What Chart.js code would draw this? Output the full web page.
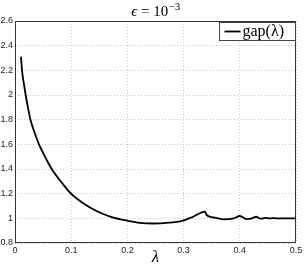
<!DOCTYPE html>
<html>
<head>
<meta charset="utf-8">
<script src="https://cdn.jsdelivr.net/npm/chart.js@4/dist/chart.umd.min.js"></script>
<style>
html,body{margin:0;padding:0;background:#fff;}
#wrap{width:305px;height:269px;}
</style>
</head>
<body>
<div id="wrap"><canvas id="c" width="305" height="269"></canvas></div>
<script>
const titleSymbol = 'ϵ';
const titleRest = ' = 10';
const titleExponent = '−3';
const xAxisLabel = 'λ';
const seriesLabel = 'gap(λ)';
const xTickLabels = ['0', '0.1', '0.2', '0.3', '0.4', '0.5'];
const yTickLabels = ['0.8', '1', '1.2', '1.4', '1.6', '1.8', '2', '2.2', '2.4', '2.6'];
const lambdaValues = [0.0107, 0.0125, 0.0155, 0.019, 0.023, 0.0275, 0.0345, 0.0427, 0.0534, 0.0653, 0.0819, 0.0996, 0.1216, 0.139, 0.157, 0.175, 0.2, 0.222, 0.246, 0.276, 0.294, 0.317, 0.338, 0.341, 0.353, 0.371, 0.389, 0.4, 0.412, 0.42, 0.429, 0.437, 0.446, 0.452, 0.458, 0.465, 0.5];
const gapValues = [2.31, 2.2, 2.1, 2.0, 1.9, 1.8, 1.7, 1.6, 1.5, 1.4, 1.297, 1.2, 1.122, 1.073, 1.035, 1.005, 0.981, 0.964, 0.958, 0.966, 0.975, 1.013, 1.054, 1.027, 1.008, 0.992, 1.0, 1.019, 0.994, 0.997, 1.013, 0.997, 1.004, 0.999, 1.002, 1.0, 1.0];

const points = lambdaValues.map((x, i) => ({x: x, y: gapValues[i]}));

const frameAndLegend = {
  id: 'frameAndLegend',
  afterDraw(chart) {
    const ctx = chart.ctx;
    const a = chart.chartArea;
    ctx.save();
    ctx.strokeStyle = '#333';
    ctx.lineWidth = 1;
    ctx.strokeRect(Math.round(a.left) + 0.5, Math.round(a.top) + 0.5, Math.round(a.right - a.left) - 1, Math.round(a.bottom - a.top) - 1);
    // title
    const cx = (a.left + a.right) / 2;
    const base = 15.5;
    const fMain = '15px "Liberation Serif", serif';
    const fIt = 'italic 15px "Liberation Serif", serif';
    const fSup = '11px "Liberation Serif", serif';
    ctx.fillStyle = '#000';
    ctx.textBaseline = 'alphabetic';
    ctx.textAlign = 'left';
    ctx.font = fIt; const w1 = ctx.measureText(titleSymbol).width;
    ctx.font = fMain; const w2 = ctx.measureText(titleRest).width;
    ctx.font = fSup; const w3 = ctx.measureText(titleExponent).width;
    let tx = cx - (w1 + w2 + w3) / 2;
    ctx.font = fIt; ctx.fillText(titleSymbol, tx, base); tx += w1;
    ctx.font = fMain; ctx.fillText(titleRest, tx, base); tx += w2;
    ctx.font = fSup; ctx.fillText(titleExponent, tx + 0.5, base - 6);
    // legend box
    const bw = 76, bh = 18;
    const bx = Math.round(a.right) - bw - 0.5, by = Math.round(a.top) + 1.5;
    ctx.fillStyle = '#fff';
    ctx.fillRect(bx, by, bw, bh);
    ctx.strokeStyle = '#444';
    ctx.lineWidth = 1;
    ctx.strokeRect(bx, by, bw, bh);
    const ds = chart.data.datasets[0];
    ctx.strokeStyle = ds.borderColor;
    ctx.lineWidth = ds.borderWidth;
    ctx.beginPath();
    ctx.moveTo(bx + 5, by + bh / 2);
    ctx.lineTo(bx + 21, by + bh / 2);
    ctx.stroke();
    ctx.fillStyle = '#000';
    ctx.font = '16px "Liberation Serif", serif';
    ctx.textBaseline = 'middle';
    ctx.textAlign = 'left';
    ctx.fillText(ds.label, bx + 23, by + bh / 2 + 0.5);
    ctx.restore();
  }
};

new Chart(document.getElementById('c'), {
  type: 'line',
  data: {
    datasets: [{
      label: seriesLabel,
      data: points,
      borderColor: '#000',
      borderWidth: 1.8,
      pointRadius: 0,
      fill: false,
      cubicInterpolationMode: 'monotone'
    }]
  },
  options: {
    responsive: false,
    animation: false,
    layout: {padding: {left: 0, right: 9, top: 21, bottom: 0}},
    plugins: {
      legend: {display: false},
      tooltip: {enabled: false},
      title: {display: false}
    },
    scales: {
      x: {
        type: 'linear',
        min: 0, max: 0.5,
        ticks: {
          stepSize: 0.1,
          color: '#222',
          font: {family: '"Liberation Sans", sans-serif', size: 9},
          padding: 2,
          maxRotation: 0,
          callback: (v, i) => xTickLabels[i]
        },
        grid: {color: '#c4c4c4', drawTicks: false},
        border: {display: false, dash: [1, 2]},
        title: {
          display: true,
          text: xAxisLabel,
          color: '#000',
          font: {family: '"Liberation Serif", serif', size: 17, style: 'italic'},
          padding: {top: 0, bottom: 1}
        },
        afterFit: s => { s.height = 26; }
      },
      y: {
        type: 'linear',
        min: 0.8, max: 2.6,
        ticks: {
          stepSize: 0.2,
          color: '#222',
          font: {family: '"Liberation Sans", sans-serif', size: 9},
          padding: 2,
          callback: (v, i) => yTickLabels[i]
        },
        grid: {color: '#c4c4c4', drawTicks: false},
        border: {display: false, dash: [1, 2]},
        afterFit: s => { s.width = 15; }
      }
    }
  },
  plugins: [frameAndLegend]
});
</script>
</body>
</html>
